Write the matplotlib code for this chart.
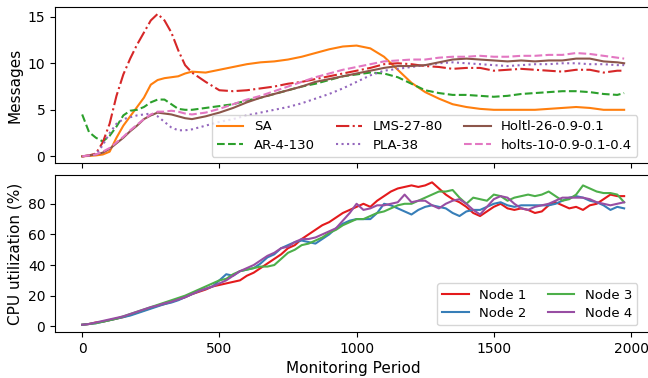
import matplotlib

matplotlib.use("Agg")

import matplotlib.pyplot as plt

# ---------------------------------------------------------------------------
# Data
# ---------------------------------------------------------------------------

msg_x = list(range(0, 400, 25)) + list(range(400, 2000, 50)) + [1975]

sa = [0.0, 0.05, 0.1, 0.2, 0.5, 2.0, 3.3, 4.3, 5.3, 6.3, 7.7, 8.2, 8.4, 8.5, 8.6, 8.9,
      9.1, 9.0, 9.3, 9.6, 9.9, 10.1, 10.2, 10.4, 10.7, 11.1, 11.5, 11.8, 11.9, 11.6, 10.7, 9.3,
      7.9, 6.9, 6.2, 5.6, 5.3, 5.1, 5.0, 5.0, 5.0, 5.0, 5.1, 5.2, 5.3, 5.2, 5.0, 5.0, 5.0]
ar = [4.5, 2.6, 2.0, 1.6, 2.2, 3.2, 4.4, 4.9, 5.0, 5.3, 5.8, 6.1, 6.1, 5.6, 5.1, 5.0,
      5.0, 5.2, 5.4, 5.6, 6.0, 6.3, 6.7, 7.1, 7.5, 7.8, 8.2, 8.6, 8.8, 9.0, 8.9, 8.5,
      7.8, 7.1, 6.8, 6.6, 6.6, 6.5, 6.4, 6.5, 6.7, 6.8, 6.9, 7.0, 7.0, 6.9, 6.7, 6.6, 6.8]
lms = [0.0, 0.1, 0.3, 1.5, 3.5, 6.5, 8.8, 10.5, 12.0, 13.3, 14.6, 15.3, 14.6, 13.3, 11.4, 9.8,
       9.0, 8.0, 7.1, 7.0, 7.1, 7.3, 7.5, 7.8, 8.0, 8.3, 8.6, 8.9, 9.2, 9.5, 9.9, 10.0,
       9.9, 9.7, 9.6, 9.4, 9.5, 9.5, 9.2, 9.3, 9.4, 9.3, 9.2, 9.1, 9.3, 9.3, 9.0, 9.2, 9.2]
pla = [0.0, 0.05, 0.2, 1.2, 2.5, 3.5, 4.0, 4.2, 4.4, 4.5, 4.6, 4.3, 3.7, 3.1, 2.8, 2.8,
       2.9, 3.3, 3.7, 4.0, 4.4, 4.7, 5.0, 5.3, 5.7, 6.2, 6.7, 7.3, 8.0, 8.7, 9.2, 9.4,
       9.6, 9.8, 10.0, 10.1, 10.0, 9.9, 9.8, 9.7, 9.8, 9.9, 9.9, 10.0, 10.0, 9.9, 9.9, 9.8, 9.8]
holtl = [0.0, 0.1, 0.2, 0.4, 0.8, 1.4, 2.0, 2.7, 3.3, 4.0, 4.4, 4.7, 4.6, 4.5, 4.3, 4.1,
         4.0, 4.3, 4.7, 5.2, 5.8, 6.3, 6.7, 7.1, 7.5, 8.0, 8.3, 8.6, 8.9, 9.2, 9.5, 9.7,
         9.7, 9.8, 10.1, 10.4, 10.5, 10.4, 10.3, 10.2, 10.3, 10.2, 10.3, 10.3, 10.5, 10.5, 10.2, 10.1, 10.0]
holts = [0.0, 0.1, 0.2, 0.5, 0.9, 1.5, 2.1, 2.8, 3.4, 4.0, 4.5, 4.8, 4.8, 4.9, 4.8, 4.6,
         4.5, 4.7, 5.1, 5.6, 6.1, 6.5, 7.0, 7.5, 8.0, 8.5, 8.9, 9.3, 9.6, 9.9, 10.2, 10.3,
         10.4, 10.4, 10.6, 10.7, 10.7, 10.8, 10.7, 10.7, 10.8, 10.8, 10.9, 10.9, 11.1, 11.0, 10.8, 10.6, 10.5]

cpu_x = list(range(0, 2000, 25))

node1 = [1, 1.5, 2.5, 3, 4, 5, 6, 7.5, 9, 10.5, 12, 13.5, 14.5, 16, 17.5, 19,
         21, 22.5, 24, 26, 27, 28, 29, 30, 33, 35, 38, 41, 44, 47, 51, 53,
         57, 60, 63, 66, 68, 71, 74, 76, 78, 80, 78, 82, 85, 88, 90, 91,
         92, 91, 92, 94, 90, 86, 83, 81, 78, 74, 72, 75, 78, 80, 77, 76,
         77, 76, 74, 75, 79, 81, 79, 77, 78, 76, 79, 80, 83, 86, 85, 85]
node2 = [1, 1.5, 2, 3, 4, 5, 6, 7, 8.5, 10, 11.5, 13, 14.5, 15.5, 17, 19,
         21, 23, 24.5, 26, 30, 34, 33, 36, 37, 38, 41, 45, 47, 51, 53, 55,
         56, 55, 54, 57, 60, 64, 67, 69, 70, 70, 70, 74, 80, 79, 77, 75,
         73, 76, 78, 79, 78, 77, 74, 72, 75, 76, 76, 78, 80, 81, 79, 78,
         79, 79, 79, 79, 79, 80, 82, 84, 85, 84, 82, 81, 79, 76, 78, 77]
node3 = [1, 1.5, 2, 3, 4, 5, 6.5, 8, 9.5, 11, 12.5, 14, 15.5, 17, 18.5, 20,
         22, 24, 26, 28, 30, 31, 34, 36, 37, 38, 39, 39, 40, 44, 48, 50,
         53, 54, 56, 58, 61, 63, 66, 68, 70, 70, 72, 74, 75, 77, 79, 80,
         80, 82, 84, 86, 88, 88, 89, 84, 80, 84, 83, 82, 86, 85, 82, 84,
         85, 86, 85, 86, 88, 85, 82, 83, 86, 92, 90, 88, 87, 87, 86, 81]
node4 = [1, 1.5, 2.5, 3.5, 4.5, 5.5, 6.5, 8, 9.5, 11, 12.5, 13.5, 15, 16, 17.5, 19,
         21, 23, 24.5, 26, 28, 30, 33, 36, 38, 40, 43, 46, 48, 51, 52, 55,
         57, 57, 58, 60, 62, 64, 69, 74, 80, 76, 77, 79, 79, 80, 81, 86,
         81, 82, 82, 79, 77, 80, 82, 83, 80, 76, 73, 78, 83, 85, 84, 80,
         77, 76, 78, 79, 80, 82, 84, 84, 84, 84, 83, 81, 80, 79, 80, 81]

msg_series = [
    ("SA", sa, "tab:orange", "-"),
    ("AR-4-130", ar, "tab:green", "--"),
    ("LMS-27-80", lms, "tab:red", "-."),
    ("PLA-38", pla, "tab:purple", ":"),
    ("Holtl-26-0.9-0.1", holtl, "tab:brown", "-"),
    ("holts-10-0.9-0.1-0.4", holts, "tab:pink", "--"),
]
cpu_series = [
    ("Node 1", node1, "#e41a1c"),
    ("Node 2", node2, "#377eb8"),
    ("Node 3", node3, "#4daf4a"),
    ("Node 4", node4, "#984ea3"),
]

# ---------------------------------------------------------------------------
# Plot
# ---------------------------------------------------------------------------

fig, (ax1, ax2) = plt.subplots(2, 1, figsize=(6.48, 3.78), dpi=100, sharex=True)
# right edge sits just past the canvas, as in the reference
fig.subplots_adjust(left=0.085, right=1.005, top=0.982, bottom=0.122, hspace=0.075)

for label, vals, color, ls in msg_series:
    ax1.plot(msg_x, vals, color=color, linestyle=ls, linewidth=1.5, label=label)
ax1.set_ylabel("Messages", fontsize=11)
ax1.set_yticks([0, 5, 10, 15])
ax1.legend(loc="lower right", ncol=3, fontsize=9.5, handlelength=2.0,
           columnspacing=1.6, borderpad=0.4, labelspacing=0.4,
           bbox_to_anchor=(0.988, 0.0))
ax1.tick_params(labelbottom=False)

for label, vals, color in cpu_series:
    ax2.plot(cpu_x, vals, color=color, linewidth=1.5, label=label)
ax2.set_ylabel("CPU utilization (%)", fontsize=11)
ax2.set_xlabel("Monitoring Period", fontsize=11)
ax2.set_yticks([0, 20, 40, 60, 80])
ax2.set_xticks([0, 500, 1000, 1500, 2000])
ax2.legend(loc="lower right", ncol=2, fontsize=9.5, handlelength=2.0,
           columnspacing=1.6, borderpad=0.4, labelspacing=0.4,
           bbox_to_anchor=(0.988, 0.0))

fig.savefig("out.png", dpi=100)
